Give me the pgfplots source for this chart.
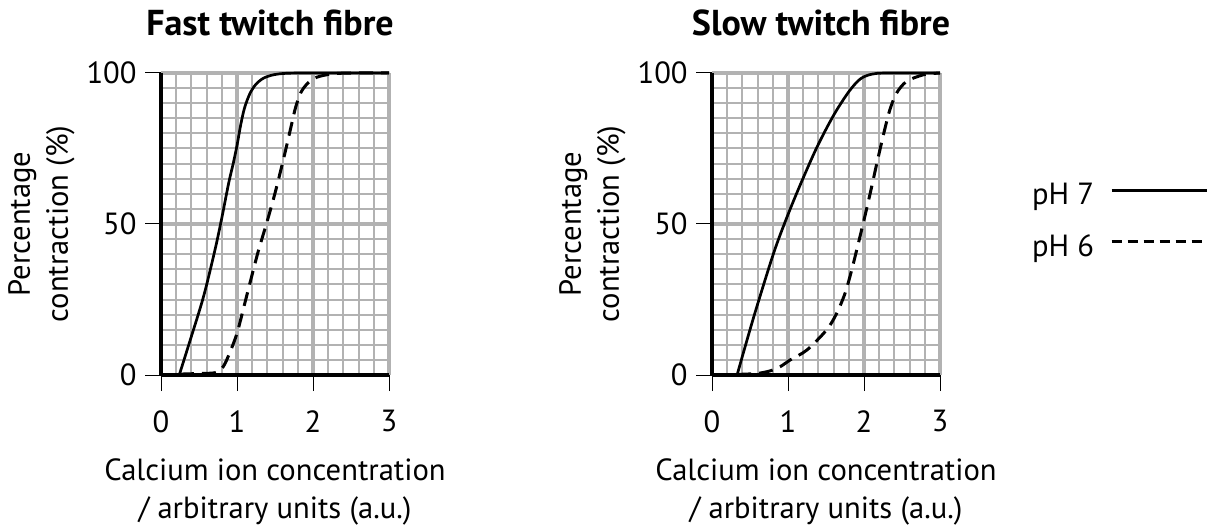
\documentclass[border=0pt]{standalone}
\usepackage{fontspec}
\setmainfont{PT Sans}
\usepackage{pgfplots}
\pgfplotsset{compat=1.18}
\pgfplotsset{
  myax/.style={
    scale only axis, width=114pt, height=151pt,
    xmin=0, xmax=3, ymin=0, ymax=100,
    xtick={0,1,2,3}, ytick={0,50,100},
    minor x tick num=4, minor y tick num=9,
    grid=both,
    minor grid style={black!30, line width=1pt},
    major grid style={black!30, line width=1.7pt},
    axis x line=bottom, axis y line=left,
    axis line style={-, black, line width=2pt},
    tick align=outside, major tick length=8pt, minor tick length=0pt,
    major tick style={black, line width=0.5pt},
    tick label style={font=\fontsize{15.3}{17}\selectfont},
    /pgf/number format/assume math mode=true,
    yticklabel style={anchor=east, inner sep=0pt, xshift=-4pt},
    xticklabel style={anchor=north, inner sep=0pt, yshift=-9.5pt},
    label style={font=\fontsize{15.3}{17}\selectfont},
    xlabel style={at={(axis description cs:0.5,-0.275)}, anchor=north, inner sep=0pt, align=center},
    ylabel style={at={(axis description cs:-0.377,0.5)}, anchor=south, inner sep=0pt, align=center},
    title style={at={(axis description cs:0.5,1)}, anchor=base, yshift=12.5pt, xshift=-2.5pt, inner sep=0pt, font=\fontsize{18}{20}\selectfont\bfseries},
    xlabel={Calcium ion concentration\\[2pt] / arbitrary units (a.u.)},
    ylabel={Percentage\\[2pt] contraction (\%)},
    clip=false,
  },
  solidcurve/.style={black, solid, no marks, line width=1.35pt, smooth, tension=0.5},
  dashedcurve/.style={black, no marks, line width=1.5pt, smooth, tension=0.5, dash pattern=on 7pt off 4pt},
}
\begin{document}
\begin{tikzpicture}
\path[use as bounding box] (0,0) rectangle (604pt,262pt);
\begin{axis}[myax, at={(80.5pt,74.5pt)}, anchor=south west, title={Fast twitch fibre}]
\addplot[solidcurve] coordinates {(0.24,0) (0.385,11.6) (0.56,26) (0.71,41.4) (0.8,52) (0.89,63.5) (0.95,70) (1.0,76) (1.05,83) (1.1,88.5) (1.17,93.2) (1.25,96.3) (1.35,98.3) (1.48,99.4) (1.65,99.9) (2.0,100) (3,100)};
\addplot[dashedcurve] coordinates {(0.25,0.3) (0.5,0.5) (0.72,0.8) (0.82,2.8) (0.91,7.7) (1.0,13.8) (1.08,21.5) (1.17,30.4) (1.28,41) (1.39,50.3) (1.5,60.2) (1.61,71.3) (1.7,81) (1.77,88.5) (1.84,93.5) (1.93,96.6) (2.05,98.6) (2.25,99.7) (2.5,100) (3,100)};
\end{axis}
\begin{axis}[myax, at={(356pt,74.5pt)}, anchor=south west, title={Slow twitch fibre},
  legend plot pos=right,
  legend image code/.code={\path (0pt,0pt); \draw[#1] (8pt,0.55ex) -- (55.5pt,0.55ex);},
  legend style={draw=none, fill=none, inner sep=0pt, outer sep=0pt,
    at={(axis description cs:2.175,0.508)}, anchor=east,
    font=\fontsize{15.3}{17}\selectfont, row sep=13.5pt,
    nodes={inner sep=0pt}},
]
\addplot[solidcurve, forget plot] coordinates {(0.33,0) (0.55,19.3) (0.81,40.3) (0.99,52.5) (1.17,63.5) (1.38,75.4) (1.6,86) (1.8,93.8) (1.95,98) (2.1,99.6) (2.3,100) (3,100)};
\addplot[dashedcurve, forget plot] coordinates {(0.33,0.2) (0.59,0.5) (0.77,1.4) (0.9,2.8) (1.03,5) (1.25,8.3) (1.51,15) (1.64,20.4) (1.75,27) (1.83,34) (1.91,42) (1.99,50.3) (2.08,60) (2.17,70.2) (2.26,80) (2.34,87.8) (2.43,93.4) (2.56,97.2) (2.78,99.4) (3,100)};
\addlegendimage{black, solid, line width=1.35pt}
\addlegendentry{pH 7}
\addlegendimage{black, line width=1.4pt, dash pattern=on 5pt off 3pt}
\addlegendentry{pH 6}
\end{axis}
\end{tikzpicture}
\end{document}
